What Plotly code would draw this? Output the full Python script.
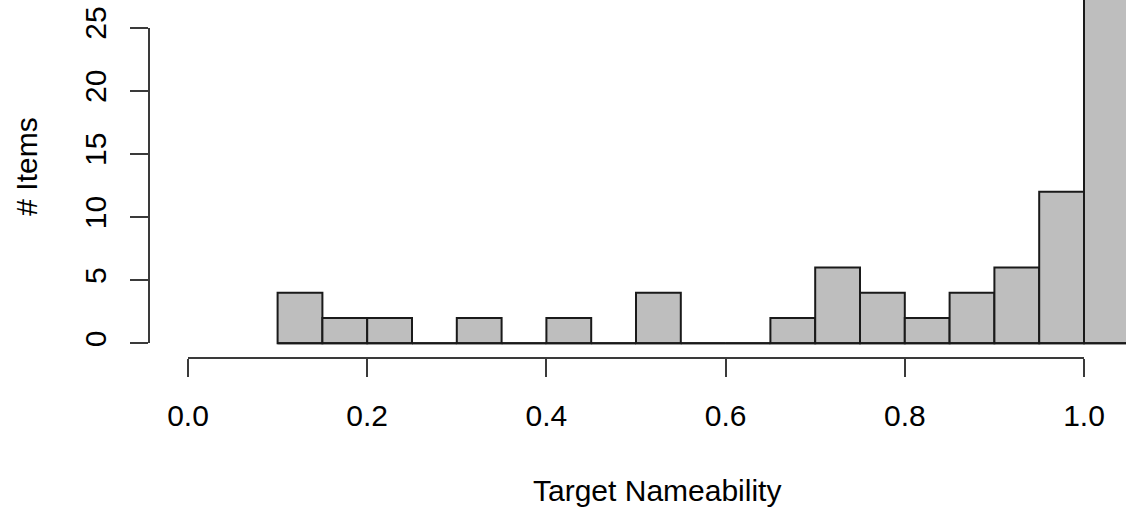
import plotly.graph_objects as go

# ---- data ----
bin_edges = [0.10, 0.15, 0.20, 0.25, 0.30, 0.35, 0.40, 0.45, 0.50, 0.55,
             0.60, 0.65, 0.70, 0.75, 0.80, 0.85, 0.90, 0.95, 1.00, 1.05]
counts = [4, 2, 2, 0, 2, 0, 2, 0, 4, 0, 0, 2, 6, 4, 2, 4, 6, 12, 45]
x_ticks = [0.0, 0.2, 0.4, 0.6, 0.8, 1.0]
x_ticktext = ["0.0", "0.2", "0.4", "0.6", "0.8", "1.0"]
y_ticks = [0, 5, 10, 15, 20, 25]
x_title = "Target Nameability"
y_title = "# Items"

W, H = 1126, 516
# pixel calibration
X0_PX, X1_PX = 188.0, 1084.0      # x=0 and x=1
Y0_PX, PX_PER_UNIT = 343.3, 12.63  # y=0 pixel, pixels per count

def px_to_x(px):
    return (px - X0_PX) / (X1_PX - X0_PX)

def px_to_y(py):
    return (Y0_PX - py) / PX_PER_UNIT

centers = [(bin_edges[i] + bin_edges[i + 1]) / 2 for i in range(len(counts))]
widths = [bin_edges[i + 1] - bin_edges[i] for i in range(len(counts))]

FONT = "Liberation Sans, Arial, sans-serif"
FS = 30
AXC = "#3a3a3a"

fig = go.Figure()
fig.add_trace(go.Bar(
    x=centers, y=counts, width=widths,
    marker=dict(color="#BEBEBE", line=dict(color="#1a1a1a", width=2)),
    showlegend=False, hoverinfo="skip", xaxis="x", yaxis="y",
))
# zero-height bins drawn as a baseline segment (as R does)
fig.add_trace(go.Scatter(
    x=[bin_edges[0], bin_edges[-1]], y=[0, 0], mode="lines",
    line=dict(color="#1a1a1a", width=2),
    showlegend=False, hoverinfo="skip", xaxis="x", yaxis="y",
))
# dummy trace to materialize the display axes
fig.add_trace(go.Scatter(x=[], y=[], xaxis="x2", yaxis="y2",
                         showlegend=False, hoverinfo="skip"))

x_axis_px = 358.3
y_axis_px = 149.0

fig.update_layout(
    width=W, height=H,
    margin=dict(l=0, r=0, t=0, b=0, pad=0, autoexpand=False),
    paper_bgcolor="white", plot_bgcolor="rgba(0,0,0,0)",
    font=dict(family=FONT, size=FS, color="black"),
    xaxis=dict(domain=[0, 1], range=[px_to_x(0), px_to_x(W)], visible=False,
               fixedrange=True, automargin=False),
    yaxis=dict(domain=[0, 1], range=[px_to_y(H), px_to_y(0)], visible=False,
               fixedrange=True, automargin=False),
    xaxis2=dict(
        domain=[X0_PX / W, X1_PX / W], range=[0, 1],
        anchor="free", position=(H - x_axis_px) / H,
        showline=True, linecolor=AXC, linewidth=2,
        ticks="outside", ticklen=18, tickwidth=2, tickcolor=AXC,
        tickvals=x_ticks, ticktext=x_ticktext, ticklabelstandoff=13,
        tickfont=dict(size=FS, color="black", family=FONT),
        showgrid=False, zeroline=False, fixedrange=True, automargin=False,
    ),
    yaxis2=dict(
        domain=[(H - Y0_PX) / H, (H - (Y0_PX - 25 * PX_PER_UNIT)) / H],
        range=[0, 25],
        anchor="free", position=y_axis_px / W,
        showline=True, linecolor=AXC, linewidth=2,
        ticks="outside", ticklen=18, tickwidth=2, tickcolor=AXC,
        tickvals=y_ticks, tickangle=-90, ticklabelstandoff=12,
        tickfont=dict(size=FS, color="black", family=FONT),
        showgrid=False, zeroline=False, fixedrange=True, automargin=False,
    ),
    annotations=[
        dict(text=x_title, xref="paper", yref="paper",
             x=656.7 / W, y=(H - 490) / H, xanchor="center", yanchor="middle",
             showarrow=False, font=dict(size=FS, color="black", family=FONT)),
        dict(text=y_title, xref="paper", yref="paper", textangle=-90,
             x=27 / W, y=(H - 166.7) / H, xanchor="center", yanchor="middle",
             showarrow=False, font=dict(size=FS, color="black", family=FONT)),
    ],
)

fig.write_html(
    "out.html",
    config={"displayModeBar": False, "staticPlot": True},
    post_script="document.body.style.margin='0';document.body.style.overflow='hidden';",
)
